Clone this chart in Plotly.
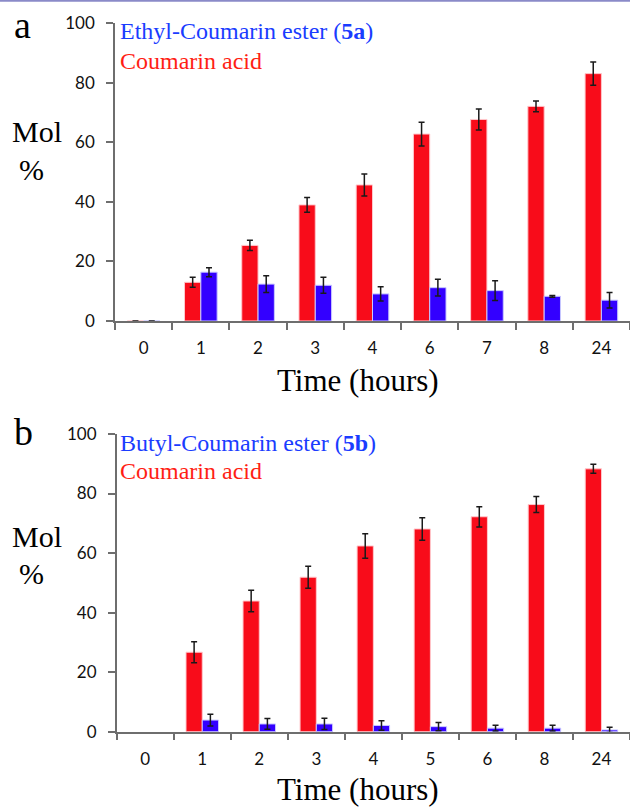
import plotly.graph_objects as go

# ---- data ----
cats_a = ["0", "1", "2", "3", "4", "6", "7", "8", "24"]
acid_a = [0, 13.0, 25.4, 39.0, 45.7, 62.8, 67.7, 72.1, 83.1]
acid_a_err = [0, 1.7, 1.7, 2.5, 3.7, 4.0, 3.5, 1.8, 3.9]
ester_a = [0, 16.4, 12.4, 12.0, 9.1, 11.2, 10.2, 8.3, 7.0]
ester_a_err = [0, 1.5, 2.8, 2.7, 2.4, 2.8, 3.3, 0.3, 2.6]

cats_b = ["0", "1", "2", "3", "4", "5", "6", "8", "24"]
acid_b = [None, 26.7, 43.9, 51.9, 62.4, 68.1, 72.2, 76.3, 88.3]
acid_b_err = [None, 3.5, 3.6, 3.7, 4.1, 3.8, 3.4, 2.7, 1.5]
ester_b = [None, 3.9, 2.6, 2.6, 2.1, 1.7, 1.2, 1.2, 0.6]
ester_b_err = [None, 2.0, 1.8, 1.9, 1.6, 1.4, 1.0, 1.0, 0.9]

yticks = [0, 20, 40, 60, 80, 100]

W, H = 630, 807
def X(px):
    return px / W
def Y(py):
    return 1 - py / H

RED = "#f80c1a"
BLUE = "#3300ff"
RED_TXT = "#ff1e14"
BLUE_TXT = "#1a3cff"
AXC = "#6e6e6e"
ERRC = "#1a1a1a"

fig = go.Figure()

def add_panel(cats, acid, acid_err, ester, ester_err, xa, ya):
    fig.add_trace(go.Bar(
        x=cats, y=acid, xaxis=xa, yaxis=ya, marker=dict(color=RED, line=dict(color="#ffc8cc", width=1)),
        error_y=dict(type="data", array=acid_err, color=ERRC, thickness=1.5, width=3),
        showlegend=False))
    fig.add_trace(go.Bar(
        x=cats, y=ester, xaxis=xa, yaxis=ya, marker=dict(color=BLUE, line=dict(color="#c8c8ff", width=1)),
        error_y=dict(type="data", array=ester_err, color=ERRC, thickness=1.5, width=3),
        showlegend=False))

add_panel(cats_a, acid_a, acid_a_err, ester_a, ester_a_err, "x", "y")
add_panel(cats_b, acid_b, acid_b_err, ester_b, ester_b_err, "x2", "y2")

tickfont = dict(family="Lato", size=17, color="#111111")

def xaxis(domain, anchor):
    return dict(domain=domain, anchor=anchor, type="category", range=[-0.5, 8.5],
                showline=True, linecolor=AXC, linewidth=1.5, ticks="outside",
                tickson="boundaries", ticklen=7, tickwidth=1.5, tickcolor=AXC,
                tickfont=tickfont, ticklabelstandoff=11, showgrid=False, zeroline=False,
                fixedrange=True, automargin=False)

def yaxis(domain, anchor):
    return dict(domain=domain, anchor=anchor, range=[0, 100], tickvals=yticks,
                showline=True, linecolor=AXC, linewidth=1.5, ticks="outside",
                ticklen=7, tickwidth=1.5, tickcolor=AXC, tickfont=tickfont,
                ticklabelstandoff=8, showgrid=False, zeroline=False, fixedrange=True,
                automargin=False)

serif = "Liberation Serif"
ann = []
def text(t, x, y, size, color="black", xanchor="center"):
    ann.append(dict(text=t, x=X(x), y=Y(y), xref="paper", yref="paper", showarrow=False,
                    xanchor=xanchor, yanchor="middle",
                    font=dict(family=serif, size=size, color=color)))

# panel a
text("a", 12, 25, 38, xanchor="left")
text("Mol", 37, 132, 30)
text("%", 31.5, 170, 30)
text("Ethyl-Coumarin ester (<b>5a</b>)", 118, 31, 24, BLUE_TXT, "left")
text("Coumarin acid", 118, 61, 24, RED_TXT, "left")
text("Time (hours)", 357.5, 380, 31)
# panel b
text("b", 12, 432, 38, xanchor="left")
text("Mol", 37, 536, 30)
text("%", 31.5, 573, 30)
text("Butyl-Coumarin ester (<b>5b</b>)", 118, 443, 24, BLUE_TXT, "left")
text("Coumarin acid", 118, 471, 24, RED_TXT, "left")
text("Time (hours)", 357.5, 789, 31)

fig.update_layout(
    width=W, height=H, margin=dict(l=0, r=0, t=0, b=0),
    paper_bgcolor="white", plot_bgcolor="white",
    barmode="group", bargap=0.43, bargroupgap=0,
    xaxis=xaxis([X(115), X(630)], "y"),
    yaxis=yaxis([Y(321), Y(23.3)], "x"),
    xaxis2=xaxis([X(116.7), 1.0], "y2"),
    yaxis2=yaxis([Y(731.7), Y(434)], "x2"),
    annotations=ann,
    shapes=[dict(type="line", xref="paper", yref="paper", x0=0, x1=1, y0=Y(0.8), y1=Y(0.8),
                 line=dict(color="#8a8ac8", width=2))],
)

fig.write_html("out.html", config={"displayModeBar": False})
